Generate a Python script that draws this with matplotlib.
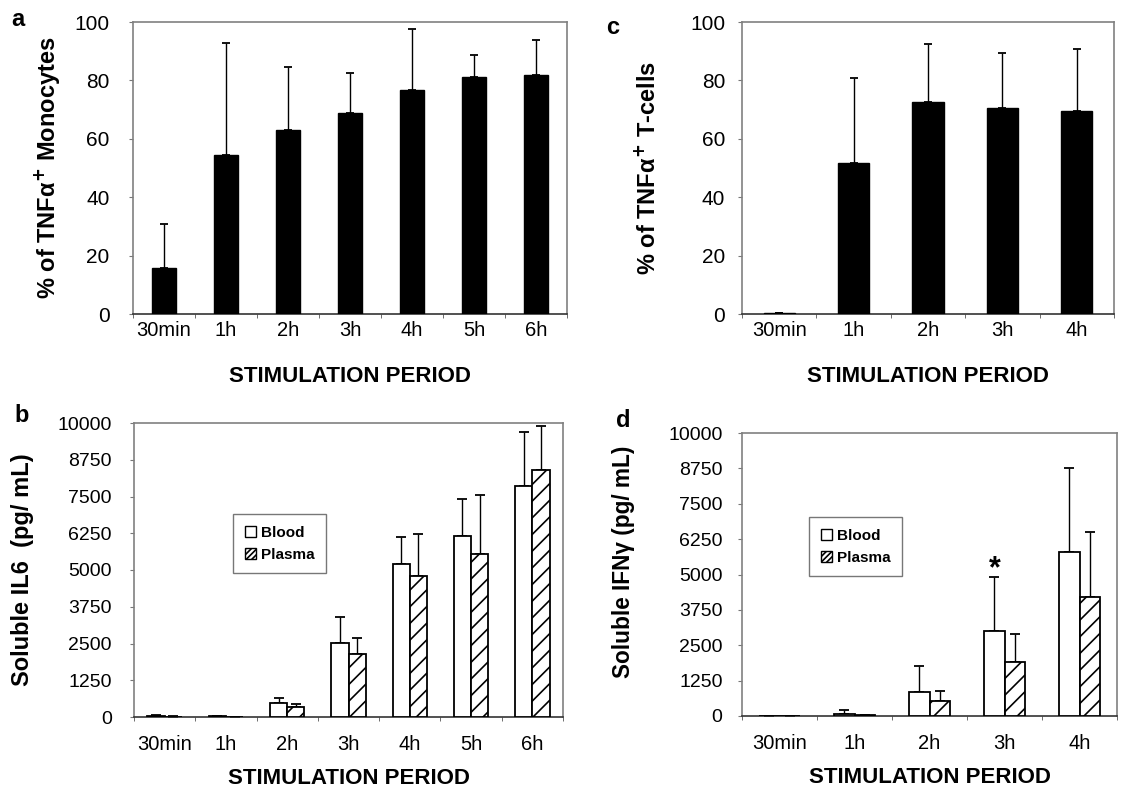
import numpy as np
import matplotlib
matplotlib.use('Agg')
import matplotlib.pyplot as plt
from matplotlib.patches import Patch

plt.rcParams['font.family'] = ['Liberation Sans', 'DejaVu Sans']
plt.rcParams['hatch.linewidth'] = 1.2

# panel a - monocytes
mono_labels = ['30min', '1h', '2h', '3h', '4h', '5h', '6h']
mono_tnf = [15.8, 54.5, 63.0, 68.9, 76.7, 81.3, 82.0]
mono_tnf_sd = [15.0, 38.3, 21.7, 13.7, 20.8, 7.4, 12.0]

# panel c - T-cells
tcell_labels = ['30min', '1h', '2h', '3h', '4h']
tcell_tnf = [0.3, 51.7, 72.5, 70.7, 69.4]
tcell_tnf_sd = [0.0, 29.1, 20.1, 18.7, 21.2]

# panel b - soluble IL6
il6_blood = [40, 30, 477, 2520, 5190, 6160, 7850]
il6_blood_sd = [20, 10, 171, 866, 941, 1250, 1850]
il6_plasma = [15, 10, 341, 2137, 4806, 5560, 8400]
il6_plasma_sd = [5, 5, 116, 535, 1421, 1990, 1500]

# panel d - soluble IFNg
ifn_blood = [0, 60, 860, 3018, 5780]
ifn_blood_sd = [0, 152, 909, 1910, 2980]
ifn_plasma = [10, 30, 541, 1910, 4220]
ifn_plasma_sd = [0, 0, 354, 980, 2289]

conc_ticks = [0, 1250, 2500, 3750, 5000, 6250, 7500, 8750, 10000]
pct_ticks = [0, 20, 40, 60, 80, 100]

W, H = 1121, 791
fig = plt.figure(figsize=(W / 100, H / 100), dpi=100)


def px_axes(left, right, top, bottom):
    return fig.add_axes([left / W, 1 - bottom / H, (right - left) / W, (bottom - top) / H])


def style_axes(ax, labels, ymax, yticks, ysize, ypad, xpad, lpad):
    n = len(labels)
    x = np.arange(n)
    ax.set_xlim(-0.5, n - 0.5)
    ax.set_ylim(0, ymax)
    ax.set_yticks(yticks)
    ax.set_xticks(x)
    ax.set_xticklabels(labels, fontsize=14.5)
    ax.set_xticks(np.arange(n + 1) - 0.5, minor=True)
    ax.tick_params(axis='x', which='major', length=0, pad=xpad)
    ax.tick_params(axis='x', which='minor', length=3, color='#555555')
    ax.tick_params(axis='y', length=3, color='#777777', labelsize=ysize, pad=ypad)
    for s in ['top', 'left', 'right']:
        ax.spines[s].set_color('#808080')
        ax.spines[s].set_linewidth(1.2)
    ax.spines['bottom'].set_color('#333333')
    ax.spines['bottom'].set_linewidth(1.2)
    ax.set_xlabel('STIMULATION PERIOD', fontsize=16, fontweight='bold', labelpad=lpad)
    return x


def pct_panel(ax, labels, vals, sd, ylabel, width, ypad):
    x = style_axes(ax, labels, 100, pct_ticks, 15, ypad, 5, 19)
    ax.bar(x, vals, width=width, color='black', edgecolor='black', zorder=3)
    ax.errorbar(x, vals, yerr=[np.zeros(len(vals)), sd], fmt='none', ecolor='black',
                elinewidth=1.0, capsize=3, capthick=1.3, zorder=2)
    ax.set_ylabel(ylabel, fontsize=17, fontweight='bold', va='center')


def conc_panel(ax, labels, blood, blood_sd, plasma, plasma_sd, ylabel, width, ypad, lsize):
    x = style_axes(ax, labels, 10000, conc_ticks, 14, ypad, 13, 10)
    ax.bar(x - width / 2, blood, width=width, color='white', edgecolor='black', linewidth=1.3, zorder=3)
    ax.bar(x + width / 2, plasma, width=width, color='white', edgecolor='black', linewidth=1.3,
           hatch='//', zorder=3)
    ax.errorbar(x - width / 2, blood, yerr=[np.zeros(len(blood)), blood_sd], fmt='none', ecolor='black',
                elinewidth=1.0, capsize=3.5, capthick=1.3, zorder=2)
    ax.errorbar(x + width / 2, plasma, yerr=[np.zeros(len(plasma)), plasma_sd], fmt='none', ecolor='black',
                elinewidth=1.0, capsize=3.5, capthick=1.3, zorder=2)
    ax.set_ylabel(ylabel, fontsize=lsize, fontweight='bold', va='center')
    return x


def add_legend(ax, anchor):
    handles = [Patch(facecolor='white', edgecolor='black', label='Blood'),
               Patch(facecolor='white', edgecolor='black', hatch='//////', label='Plasma')]
    leg = ax.legend(handles=handles, loc='upper left', bbox_to_anchor=anchor, borderaxespad=0,
                    fancybox=False, handlelength=0.75, handleheight=0.75, handletextpad=0.3,
                    borderpad=0.75, labelspacing=0.55, prop={'weight': 'bold', 'size': 11})
    leg.get_frame().set_edgecolor('#555555')
    leg.get_frame().set_linewidth(1.0)


# a
ax_a = px_axes(133, 567, 22, 314)
pct_panel(ax_a, mono_labels, mono_tnf, mono_tnf_sd, r'% of TNFα$^{\mathbf{+}}$ Monocytes', 0.4, 14)
ax_a.yaxis.set_label_coords(-0.198, 0.5)

# c
ax_c = px_axes(742, 1114, 22, 314)
pct_panel(ax_c, tcell_labels, tcell_tnf, tcell_tnf_sd, r'% of TNFα$^{\mathbf{+}}$ T-cells', 0.42, 9)
ax_c.yaxis.set_label_coords(-0.255, 0.5)

# b
ax_b = px_axes(134, 563, 423, 717)
conc_panel(ax_b, mono_labels, il6_blood, il6_blood_sd, il6_plasma, il6_plasma_sd,
           'Soluble IL6  (pg/ mL)', 0.28, 13, 17)
ax_b.yaxis.set_label_coords(-0.261, 0.5)
add_legend(ax_b, (0.231, 0.69))

# d
ax_d = px_axes(742, 1117, 433, 716)
xd = conc_panel(ax_d, tcell_labels, ifn_blood, ifn_blood_sd, ifn_plasma, ifn_plasma_sd,
                'Soluble IFNγ (pg/ mL)', 0.27, 11, 16.3)
ax_d.yaxis.set_label_coords(-0.315, 0.545)
add_legend(ax_d, (0.179, 0.703))
ax_d.text(xd[3] - 0.27 / 2, ifn_blood[3] + ifn_blood_sd[3] + 250, '*', ha='center', va='center',
          fontsize=22, fontweight='bold')

# panel letters
for lbl, px, py in [('a', 18, 20), ('c', 613, 28), ('b', 22, 416), ('d', 623, 420)]:
    fig.text(px / W, 1 - py / H, lbl, fontsize=17, fontweight='bold', ha='center', va='center')

fig.savefig('out.png', dpi=100)
